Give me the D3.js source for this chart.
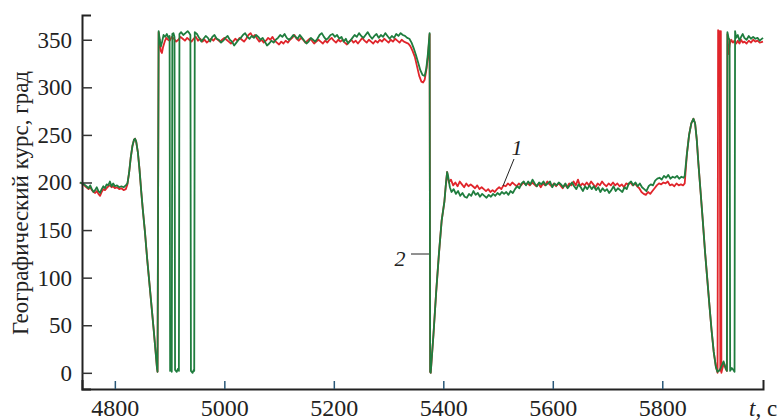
<!DOCTYPE html>
<html>
<head>
<meta charset="utf-8">
<script src="https://cdn.jsdelivr.net/npm/d3@7"></script>
<style>
  body { margin: 0; background: #fff; }
  svg text { font-family: "Liberation Serif", "Times New Roman", serif; fill: #222; }
</style>
</head>
<body>
<div id="chart"></div>
<script>
/* CONSTANTS AND GLOBALS */
const width = 780;
const height = 420;
const margin = {left: 82, right: 17, top: 15, bottom: 31};

// DATA: time (s), heading (deg)
const xTicks = [4800, 5000, 5200, 5400, 5600, 5800];
const yTicks = [0, 50, 100, 150, 200, 250, 300, 350];

// curve 1 (red)
const course1 = [
  [4736,200],[4740,199],[4744,197],[4748,195],[4752,193],[4755,195],[4758,192],[4761,190],[4764,189],[4767,191],
  [4770,188],[4773,186],[4776,190],[4779,193],[4782,192],[4785,194],[4788,196],[4791,197],[4794,195],[4797,196],
  [4800,194],[4804,195],[4808,193],[4812,194],[4816,192],[4820,193],[4823,198],
  [4826,210],[4829,226],[4832,238],[4835,245],[4837,246],[4839,243],[4842,232],[4845,214],[4848,192],[4851,172],
  [4855,148],[4859,120],[4863,95],[4867,70],[4871,45],[4874,25],[4877,5],[4878,1],
  [4880,358],[4882,348],[4884,338],[4886,336],[4888,342],[4891,348],[4894,352],[4897,350],[4900,349],[4904,353],
  [4908,351],[4912,348],[4916,350],[4920,353],[4924,351],[4928,349],[4932,352],[4936,350],[4940,348],[4944,351],
  [4948,353],[4952,349],[4956,351],[4960,348],[4964,350],[4968,347],[4972,349],[4976,351],[4980,349],[4984,352],
  [4988,350],[4992,348],[4996,350],[5000,352],[5004,350],[5008,348],[5012,346],[5016,348],[5020,351],[5024,349],
  [5028,352],[5032,350],[5036,348],[5040,351],[5044,355],[5048,357],[5052,353],[5056,355],[5060,351],[5064,348],
  [5068,350],[5072,347],[5076,349],[5080,352],[5084,350],[5088,353],[5092,349],[5096,347],[5100,345],[5104,348],
  [5108,346],[5112,349],[5116,347],[5120,350],[5124,352],[5128,355],[5132,351],[5136,349],[5140,352],[5144,350],
  [5148,347],[5152,349],[5156,351],[5160,349],[5164,346],[5168,348],[5172,350],[5176,348],[5180,346],[5184,349],
  [5188,347],[5192,350],[5196,352],[5200,349],[5204,347],[5208,350],[5212,348],[5216,350],[5220,347],[5224,345],
  [5228,348],[5232,350],[5236,347],[5240,349],[5244,346],[5248,349],[5252,352],[5256,349],[5260,347],[5264,350],
  [5268,348],[5272,346],[5276,349],[5280,347],[5284,350],[5288,348],[5292,351],[5296,349],[5300,347],[5304,350],
  [5308,348],[5312,351],[5316,349],[5320,347],[5324,350],[5328,348],[5332,347],[5336,346],[5340,343],[5344,338],
  [5348,332],[5352,322],[5356,312],[5360,306],[5363,305],[5366,308],[5369,318],[5372,332],[5374,348],[5375,356],
  [5376,1],[5377,0],
  [5382,40],[5387,85],[5392,125],[5397,160],[5402,180],[5405,200],[5407,211],
  [5410,200],[5414,203],[5418,197],[5422,200],[5426,196],[5430,201],[5434,198],[5438,195],[5442,199],[5446,196],
  [5450,198],[5454,196],[5458,194],[5462,197],[5466,193],[5470,195],[5474,193],[5478,191],[5482,193],[5486,190],
  [5490,192],[5494,190],[5498,193],[5502,195],[5506,193],[5510,197],[5514,196],[5518,199],[5522,197],[5526,200],
  [5530,198],[5534,196],[5538,199],[5542,197],[5546,200],[5550,198],[5554,199],[5558,197],[5562,200],[5566,198],
  [5570,196],[5574,199],[5578,195],[5582,199],[5586,197],[5590,201],[5594,198],[5598,196],[5602,199],[5606,196],
  [5610,199],[5614,197],[5618,194],[5622,198],[5626,195],[5630,199],[5634,197],[5638,201],[5642,197],[5646,203],
  [5650,196],[5654,199],[5658,197],[5662,200],[5666,197],[5670,201],[5674,198],[5678,195],[5682,199],[5686,197],
  [5690,201],[5694,198],[5698,196],[5702,199],[5706,197],[5710,200],[5714,197],[5718,199],[5722,196],[5726,198],
  [5730,195],[5734,199],[5738,198],[5742,200],[5746,197],[5750,199],[5754,196],[5758,194],[5762,190],[5766,188],
  [5770,187],[5774,190],[5778,188],[5782,191],[5786,194],[5790,197],[5794,199],[5798,198],[5802,200],[5806,199],
  [5810,201],[5814,197],[5818,198],[5822,196],[5826,199],[5830,197],[5834,198],[5838,197],[5841,199],
  [5845,230],[5849,250],[5853,262],[5857,267],[5860,262],[5863,245],[5866,220],[5870,190],[5874,160],[5878,128],
  [5882,100],[5886,72],[5890,45],[5894,22],[5898,6],[5901,0],
  [5902,360],[5903,358],[5904,357],[5905,359],[5906,2],[5907,359],[5908,0],[5910,5],[5913,10],[5916,4],[5918,2],
  [5919,356],[5921,335],[5923,345],[5926,350],[5929,347],[5932,349],[5935,346],[5938,349],[5941,346],[5944,350],
  [5947,347],[5950,348],[5954,346],[5958,349],[5962,347],[5966,350],[5970,348],[5974,349],[5978,347],[5984,348]
];

// curve 2 (green)
const course2 = [
  [4736,200],[4740,199],[4744,198],[4748,196],[4752,194],[4755,197],[4758,193],[4761,190],[4764,192],[4767,195],
  [4770,191],[4773,189],[4776,193],[4779,196],[4782,194],[4785,198],[4788,197],[4791,201],[4794,196],[4797,199],
  [4800,196],[4804,197],[4808,195],[4812,196],[4816,195],[4820,197],[4823,199],
  [4826,210],[4829,226],[4832,238],[4835,245],[4837,246],[4839,243],[4842,232],[4845,214],[4848,192],[4851,172],
  [4855,148],[4859,120],[4863,95],[4867,70],[4871,45],[4874,25],[4877,5],[4878,1],
  [4880,359],[4882,350],[4884,343],[4886,347],[4889,355],[4892,353],[4895,356],[4898,352],[4900,354],
  [4901,2],[4903,4],[4904,1],[4905,356],[4907,357],[4909,353],[4910,3],[4913,1],[4915,4],[4917,2],
  [4918,356],[4921,358],[4925,355],[4929,357],[4933,359],[4936,357],[4938,355],[4939,2],[4942,0],[4944,3],[4945,2],
  [4946,358],[4950,356],[4954,352],[4958,348],[4962,351],[4966,354],[4970,352],[4974,348],[4978,353],[4982,355],
  [4986,351],[4990,350],[4994,347],[4998,349],[5002,352],[5006,354],[5010,350],[5014,348],[5018,344],[5022,347],
  [5026,350],[5030,352],[5034,355],[5038,357],[5042,353],[5046,351],[5050,354],[5054,352],[5058,355],[5062,353],
  [5066,350],[5070,352],[5074,348],[5078,344],[5082,346],[5086,349],[5090,347],[5094,350],[5098,352],[5102,355],
  [5106,353],[5110,356],[5114,352],[5118,350],[5122,352],[5126,355],[5130,353],[5134,351],[5138,355],[5142,352],
  [5146,349],[5150,346],[5154,348],[5158,352],[5162,350],[5166,348],[5170,351],[5174,355],[5178,357],[5182,353],
  [5186,350],[5190,352],[5194,355],[5198,356],[5202,353],[5206,355],[5210,351],[5214,353],[5218,348],[5222,351],
  [5226,346],[5230,349],[5234,352],[5238,355],[5242,353],[5246,357],[5250,354],[5254,352],[5258,355],[5262,358],
  [5266,354],[5270,351],[5274,354],[5278,356],[5282,352],[5286,355],[5290,353],[5294,357],[5298,354],[5302,351],
  [5306,354],[5310,352],[5314,356],[5318,354],[5322,357],[5326,355],[5330,354],[5334,352],[5338,351],[5342,347],
  [5346,341],[5350,334],[5354,326],[5358,318],[5362,313],[5366,312],[5369,320],[5372,336],[5374,350],[5375,357],
  [5376,1],[5377,0],
  [5382,40],[5387,85],[5392,125],[5397,160],[5402,180],[5405,200],[5407,211],
  [5409,206],[5412,195],[5415,190],[5419,193],[5423,188],[5427,191],[5431,186],[5435,189],[5439,185],[5443,184],
  [5447,188],[5451,186],[5455,191],[5459,187],[5463,189],[5467,185],[5471,188],[5475,186],[5479,184],[5483,187],
  [5487,185],[5491,188],[5495,186],[5499,189],[5503,187],[5507,190],[5511,188],[5515,190],[5519,187],[5523,191],
  [5527,189],[5531,193],[5535,196],[5539,194],[5543,199],[5547,201],[5551,197],[5555,201],[5559,198],[5563,203],
  [5567,199],[5571,196],[5575,200],[5579,198],[5583,201],[5587,197],[5591,199],[5595,201],[5599,195],[5603,199],
  [5607,197],[5611,200],[5615,198],[5619,195],[5623,199],[5627,194],[5631,197],[5635,200],[5639,196],[5643,193],
  [5647,198],[5651,195],[5655,191],[5659,196],[5663,193],[5667,197],[5671,193],[5675,196],[5679,192],[5683,195],
  [5687,190],[5691,194],[5695,191],[5699,193],[5703,189],[5707,192],[5711,196],[5715,191],[5719,194],[5723,192],
  [5727,190],[5731,195],[5735,193],[5739,199],[5743,201],[5747,197],[5751,200],[5755,196],[5759,199],[5763,195],
  [5767,193],[5771,191],[5775,196],[5779,198],[5783,197],[5787,202],[5791,204],[5795,205],[5799,203],[5803,207],
  [5807,205],[5811,208],[5815,204],[5819,206],[5823,205],[5827,207],[5831,204],[5835,206],[5839,205],[5841,207],
  [5845,230],[5849,250],[5853,262],[5857,267],[5860,262],[5863,245],[5866,220],[5870,190],[5874,160],[5878,128],
  [5882,100],[5886,72],[5890,45],[5894,22],[5898,6],[5901,1],
  [5905,3],[5909,8],[5912,12],[5915,6],[5918,2],[5919,358],[5921,352],[5923,350],[5924,2],[5927,5],[5930,3],[5932,1],
  [5933,359],[5935,352],[5938,355],[5941,349],[5944,353],[5947,356],[5950,352],[5954,350],[5958,354],[5962,351],
  [5966,353],[5970,351],[5974,352],[5978,349],[5984,352]
];

const svg = d3.select("#chart")
  .append("svg")
  .attr("width", width)
  .attr("height", height);

const xScale = d3.scaleLinear()
  .domain([4740, 5984])
  .range([margin.left, width - margin.right]);

const yScale = d3.scaleLinear()
  .domain([-17, 376])
  .range([height - margin.bottom, margin.top]);

// lines
const lineGen = d3.line()
  .x(d => xScale(d[0]))
  .y(d => yScale(d[1]));

svg.append("path")
  .datum(course1)
  .attr("fill", "none")
  .attr("stroke", "#e0252b")
  .attr("stroke-width", 1.8)
  .attr("stroke-linejoin", "round")
  .attr("d", lineGen);

svg.append("path")
  .datum(course2)
  .attr("fill", "none")
  .attr("stroke", "#1f7d3e")
  .attr("stroke-width", 1.8)
  .attr("stroke-linejoin", "round")
  .attr("d", lineGen);

// Axis
const xAxis = d3.axisBottom(xScale)
  .tickValues(xTicks)
  .tickFormat(d3.format("d"))
  .tickSizeInner(-8)
  .tickSizeOuter(-9)
  .tickPadding(10);

const gx = svg.append("g")
  .attr("transform", `translate(0, ${height - margin.bottom})`)
  .call(xAxis);
gx.select(".domain").attr("stroke", "#222").attr("stroke-width", 2);
gx.selectAll(".tick line").attr("stroke", "#2a5878").attr("stroke-width", 1.5);
gx.selectAll(".tick text").style("font-size", "24px").attr("fill", "#222");

const yAxis = d3.axisLeft(yScale)
  .tickValues(yTicks)
  .tickSizeInner(-10)
  .tickSizeOuter(-9)
  .tickPadding(10);

const gy = svg.append("g")
  .attr("transform", `translate(${margin.left}, 0)`)
  .call(yAxis);
gy.select(".domain").attr("stroke", "#222").attr("stroke-width", 2);
gy.selectAll(".tick line").attr("stroke", "#333").attr("stroke-width", 1.5);
gy.selectAll(".tick text").style("font-size", "23px").attr("fill", "#222");

// Y label
svg.append("text")
  .attr("transform", "translate(28, 203) rotate(-90)")
  .attr("text-anchor", "middle")
  .style("font-size", "23px")
  .text("Географический курс, град");

// X label
const xl = svg.append("text")
  .attr("x", 749)
  .attr("y", 416)
  .style("font-size", "23px");
xl.append("tspan").style("font-style", "italic").text("t");
xl.append("tspan").text(", c");

// curve labels
svg.append("text")
  .attr("x", 517).attr("y", 155)
  .attr("text-anchor", "middle")
  .style("font-size", "22px").style("font-style", "italic")
  .text("1");
svg.append("line")
  .attr("x1", 514).attr("y1", 159).attr("x2", 503).attr("y2", 186)
  .attr("stroke", "#222").attr("stroke-width", 1);

svg.append("text")
  .attr("x", 400).attr("y", 266)
  .attr("text-anchor", "middle")
  .style("font-size", "22px").style("font-style", "italic")
  .text("2");
svg.append("line")
  .attr("x1", 411).attr("y1", 254).attr("x2", 429).attr("y2", 254)
  .attr("stroke", "#222").attr("stroke-width", 1);
</script>
</body>
</html>
